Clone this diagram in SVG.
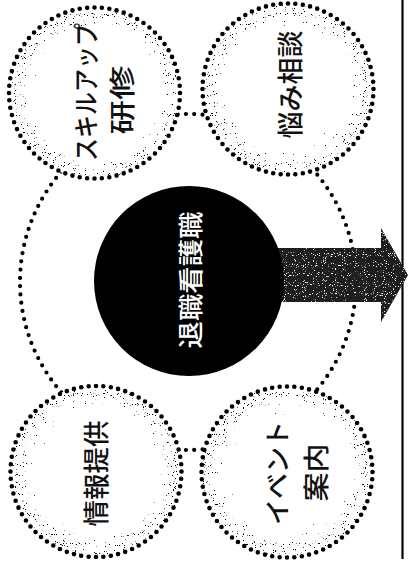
<svg xmlns="http://www.w3.org/2000/svg" width="408" height="562" viewBox="0 0 408 562">
  <defs>
    <style>
      .ring { fill: none; stroke: #000; stroke-width: 4.6; stroke-linecap: round; stroke-dasharray: 0 1; }
      .big { fill: none; stroke: #000; stroke-width: 4.2; stroke-linecap: round; stroke-dasharray: 0 1; }
      .bg { fill: #fff; }
      .stip { fill: url(#den); filter: url(#speck); }
      .lbl { font-family: "Noto Sans CJK JP", "Noto Sans CJK SC", sans-serif; font-size: 26px; font-weight: 500; fill: #111; text-anchor: middle; dominant-baseline: central; }
      .core { fill: #fff; font-size: 25px; }
    </style>
    <radialGradient id="den" cx="50%" cy="50%" r="50%">
      <stop offset="0" stop-color="#000" stop-opacity="0"/>
      <stop offset="0.55" stop-color="#000" stop-opacity="0.14"/>
      <stop offset="0.8" stop-color="#000" stop-opacity="0.29"/>
      <stop offset="0.93" stop-color="#000" stop-opacity="0.35"/>
      <stop offset="1" stop-color="#000" stop-opacity="0.28"/>
    </radialGradient>
    <filter id="speck" x="-5%" y="-5%" width="110%" height="110%" color-interpolation-filters="sRGB">
      <feTurbulence type="fractalNoise" baseFrequency="1.1" numOctaves="1" seed="5" result="n"/>
      <feColorMatrix in="n" type="matrix" values="0 0 0 0 0  0 0 0 0 0  0 0 0 0 0  1 0 0 0 0" result="na"/>
      <feComposite in="SourceGraphic" in2="na" operator="arithmetic" k1="0" k2="1" k3="1" k4="-1" result="m"/>
      <feComponentTransfer in="m">
        <feFuncA type="linear" slope="25" intercept="0"/>
      </feComponentTransfer>
    </filter>
    <filter id="arrtex" x="0" y="0" width="100%" height="100%" color-interpolation-filters="sRGB">
      <feTurbulence type="fractalNoise" baseFrequency="0.9" numOctaves="1" seed="2" result="n"/>
      <feColorMatrix in="n" type="matrix" values="0 0 0 0 1  0 0 0 0 1  0 0 0 0 1  14 0 0 0 -8.8" result="w"/>
      <feComposite in="w" in2="SourceGraphic" operator="atop"/>
    </filter>
  </defs>

  <line x1="402.5" y1="0" x2="402.5" y2="559" stroke="#000" stroke-width="2.2"/>

  <g id="connectors">
    <circle class="big" cx="188" cy="282" r="168" pathLength="127"/>
  </g>

  <g id="arrow">
    <path d="M250,248 H381 V228 L408,275 L381,322 V302 H250 Z" fill="#1e1e1e" filter="url(#arrtex)"/>
  </g>

  <g id="core">
    <circle cx="189" cy="281" r="95" fill="#000"/>
    <text class="lbl core" transform="translate(188.5,280) rotate(-90)" textLength="137" lengthAdjust="spacingAndGlyphs">退職看護職</text>
  </g>

  <g id="skillup">
    <circle class="bg" cx="94.5" cy="93" r="86"/>
    <circle class="stip" cx="94.5" cy="93" r="86"/>
    <circle class="ring" cx="94.5" cy="93" r="85.5" pathLength="72"/>
    <text class="lbl" transform="translate(84,92) rotate(-90)" textLength="138" lengthAdjust="spacingAndGlyphs">スキルアップ</text>
    <text class="lbl" transform="translate(120,100) rotate(-90)" textLength="69" lengthAdjust="spacingAndGlyphs">研修</text>
  </g>

  <g id="consult">
    <circle class="bg" cx="288" cy="89" r="86"/>
    <circle class="stip" cx="288" cy="89" r="86"/>
    <circle class="ring" cx="288" cy="89" r="85.5" pathLength="72"/>
    <text class="lbl" transform="translate(288.5,84.5) rotate(-90)" textLength="108" lengthAdjust="spacingAndGlyphs">悩み相談</text>
  </g>

  <g id="info">
    <circle class="bg" cx="96" cy="471.5" r="86"/>
    <circle class="stip" cx="96" cy="471.5" r="86"/>
    <circle class="ring" cx="96" cy="471.5" r="85.5" pathLength="72"/>
    <text class="lbl" transform="translate(94,473.5) rotate(-90)" textLength="106" lengthAdjust="spacingAndGlyphs">情報提供</text>
  </g>

  <g id="event">
    <circle class="bg" cx="287" cy="472" r="86"/>
    <circle class="stip" cx="287" cy="472" r="86"/>
    <circle class="ring" cx="287" cy="472" r="85.5" pathLength="72"/>
    <text class="lbl" transform="translate(275,473) rotate(-90)" textLength="104" lengthAdjust="spacingAndGlyphs">イベント</text>
    <text class="lbl" transform="translate(314,472.5) rotate(-90)" textLength="58" lengthAdjust="spacingAndGlyphs">案内</text>
  </g>
</svg>
